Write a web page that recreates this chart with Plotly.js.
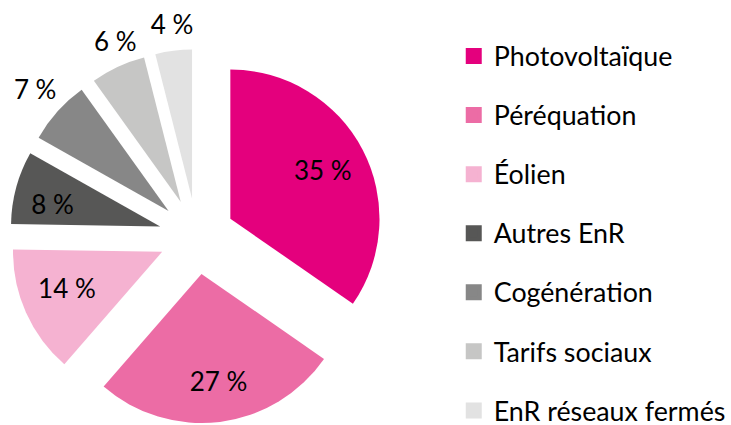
<!DOCTYPE html>
<html>
<head>
<meta charset="utf-8">
<script src="https://cdn.plot.ly/plotly-3.0.1.min.js"></script>
<style>html,body{margin:0;padding:0;background:#fff;}#chart{width:731px;height:425px;}</style>
</head>
<body>
<div id="chart"></div>
<script>
// ---- data ----
const categories = ['Photovoltaïque', 'Péréquation', 'Éolien', 'Autres EnR', 'Cogénération', 'Tarifs sociaux', 'EnR réseaux fermés'];
const shares = [35, 27, 14, 8, 7, 6, 4];

// ---- style ----
const sliceColors = ['#E4007D', '#EC6CA5', '#F5B2D1', '#575756', '#878787', '#C6C6C5', '#E2E2E2'];
const FONT = 'Lato, "Open Sans", sans-serif';
const W = 731, H = 425;
const cx = 198.4, cyTop = 236.3, half = 188.6;
const slicePull = 0.254;
// label placement helpers (which slice, where its text goes: inside/outside, extra radial pull, box half-size, pixel nudge)
const labelPlacement = [
  {i: 0, pos: 'inside',  pull: 0.9644, half: 188.6, nudge: [0, 0]},
  {i: 1, pos: 'inside',  pull: 0.9728, half: 188.6, nudge: [3.6, -0.5]},
  {i: 2, pos: 'inside',  pull: 0.1755, half: 188.6, nudge: [-2.2, -5.1]},
  {i: 3, pos: 'inside',  pull: 0.2043, half: 181,   nudge: [0.7, 7.1]},
  {i: 4, pos: 'outside', pull: slicePull, half: 188.6, nudge: [7, -15.7]},
  {i: 5, pos: 'outside', pull: slicePull, half: 188.6, nudge: [27, -13]},
  {i: 6, pos: 'outside', pull: slicePull, half: 188.6, nudge: [28, -10.5]}
];

function domainAt(dx, dy, h) {
  const cyB = H - (cyTop + dy);
  return {x: [(cx + dx - h) / W, (cx + dx + h) / W], y: [(cyB - h) / H, (cyB + h) / H]};
}
const txtFont = {family: FONT, size: 26, color: '#000'};
const clear = shares.map(() => 'rgba(0,0,0,0)');

const base = {
  type: 'pie', values: shares, sort: false, direction: 'clockwise', rotation: 0,
  hoverinfo: 'none', texttemplate: '%{value} %', insidetextorientation: 'horizontal',
  textfont: txtFont, insidetextfont: txtFont, outsidetextfont: txtFont
};

const traces = [];
// legend source: same slices drawn tiny underneath the big pie (its 4px outline gives 16px legend squares);
// the label sits on the 4th line, the blank lines set the row spacing
traces.push(Object.assign({}, base, {
  labels: categories.map(c => '<br><br><br><span style="font-size:26.8px;baseline-shift:-5.8px">' + c + '</span>'),
  marker: {colors: sliceColors, line: {width: 4, color: sliceColors}},
  textinfo: 'none', texttemplate: '',
  showlegend: true,
  domain: {x: [300 / W, 301 / W], y: [1 - 161 / H, 1 - 160 / H]}
}));
// the pie itself
traces.push(Object.assign({}, base, {
  labels: categories.map(c => '<br><br><br><span style="font-size:26.8px;baseline-shift:-5.8px">' + c + '</span>'),
  pull: shares.map(() => slicePull),
  marker: {colors: sliceColors, line: {width: 0}},
  textinfo: 'none', texttemplate: '',
  showlegend: false,
  domain: domainAt(0, 0, half)
}));
// percentage labels
labelPlacement.forEach(p => {
  traces.push(Object.assign({}, base, {
    labels: categories,
    pull: shares.map((_, i) => i === p.i ? p.pull : 0),
    marker: {colors: clear, line: {width: 0}},
    textposition: shares.map((_, i) => i === p.i ? p.pos : 'none'),
    showlegend: false,
    domain: domainAt(p.nudge[0], p.nudge[1], p.half)
  }));
});

const layout = {
  width: W, height: H,
  margin: {l: 0, r: 0, t: 0, b: 0},
  paper_bgcolor: '#fff',
  showlegend: true,
  legend: {
    x: 457.5 / W, xanchor: 'left',
    y: 1 - 0.5 / H, yanchor: 'top',
    valign: 'bottom',
    font: {family: FONT, size: 10.78, color: '#000'},
    bgcolor: 'rgba(0,0,0,0)',
    borderwidth: 0
  }
};

Plotly.newPlot('chart', traces, layout, {displayModeBar: false, staticPlot: true});
</script>
</body>
</html>
